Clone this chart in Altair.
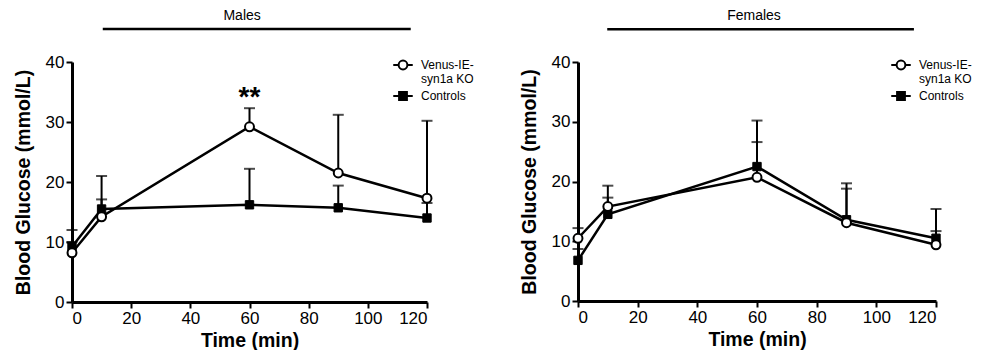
import altair as alt
import pandas as pd

# ---- data ----
time_min = [0, 10, 60, 90, 120]
series_names = ["Venus-IE-syn1a KO", "Controls"]

male_ko = [8.2, 14.2, 29.2, 21.5, 17.3]
male_ko_upper = [12.0, 21.0, 32.3, 31.2, 30.2]
male_ctrl = [9.2, 15.5, 16.2, 15.7, 14.0]
male_ctrl_upper = [10.0, 17.1, 22.2, 19.4, 16.5]

female_ko = [10.5, 15.8, 20.7, 13.1, 9.4]
female_ko_upper = [12.2, 19.3, 26.6, 18.8, 11.7]
female_ctrl = [6.8, 14.5, 22.5, 13.6, 10.5]
female_ctrl_upper = [8.7, 17.3, 30.2, 19.7, 15.4]

x_ticks = [0, 20, 40, 60, 80, 100, 120]
y_ticks = [0, 10, 20, 30, 40]

FONT = "Liberation Sans"

KO_PATH = ("M-1,0H-0.45M0.45,0H1M0.45,0A0.45,0.45,0,1,1,-0.45,0"
           "A0.45,0.45,0,1,1,0.45,0Z")
CTRL_PATH = "M-1,0H1M-0.4,-0.4H0.4V0.4H-0.4Z"

AXIS_STYLE = dict(
    grid=False, domainColor="black", domainWidth=3, tickColor="black", tickWidth=2,
    tickSize=6, labelFont=FONT, labelFontSize=17, labelColor="black", labelPadding=2,
    titleFont=FONT, titleFontSize=19.5, titleFontWeight="bold", titleColor="black",
)


def make_df(ko, ko_up, ctrl, ctrl_up):
    rows = []
    for t, v, u in zip(time_min, ko, ko_up):
        rows.append({"time": t, "value": v, "upper": u, "series": series_names[0]})
    for t, v, u in zip(time_min, ctrl, ctrl_up):
        rows.append({"time": t, "value": v, "upper": u, "series": series_names[1]})
    return pd.DataFrame(rows)


def legend_def(legend_x):
    return alt.Legend(
        title=None, orient="none", legendX=legend_x, legendY=-8,
        symbolSize=380, symbolStrokeWidth=2, symbolStrokeColor="black", symbolOpacity=1,
        labelFont=FONT, labelFontSize=12, labelColor="black",
        labelLimit=200, labelOffset=7, rowPadding=-1,
        labelExpr="datum.label == 'Venus-IE-syn1a KO' ? ['Venus-IE-', 'syn1a KO'] : datum.label",
    )


def panel(label, ko, ko_up, ctrl, ctrl_up, header, legend_x, stars=None):
    df = make_df(ko, ko_up, ctrl, ctrl_up)
    base = alt.Chart(df)
    x = alt.X("time:Q", scale=alt.Scale(domain=[0, 120], nice=False),
              axis=alt.Axis(values=x_ticks, title="Time (min)", format="d",
                            titlePadding=5, **AXIS_STYLE))
    y = alt.Y("value:Q", scale=alt.Scale(domain=[0, 40], nice=False),
              axis=alt.Axis(values=y_ticks, title="Blood Glucose (mmol/L)", format="d",
                            titlePadding=12, **AXIS_STYLE))

    err = base.mark_rule(color="black", strokeWidth=2).encode(
        x=x, y=y, y2="upper:Q")
    cap = base.mark_tick(color="black", thickness=2, size=11, orient="horizontal").encode(
        x="time:Q", y="upper:Q")
    line = base.mark_line(color="black", strokeWidth=2.5).encode(
        x="time:Q", y="value:Q", detail="series:N")
    ctrl_pts = base.transform_filter(alt.datum.series == series_names[1]).mark_point(
        shape="square", filled=True, fill="black", stroke="black", strokeWidth=1,
        size=70, opacity=1).encode(x="time:Q", y="value:Q")
    ko_pts = base.transform_filter(alt.datum.series == series_names[0]).mark_point(
        shape="circle", filled=True, fill="white", stroke="black", strokeWidth=2,
        size=80, opacity=1).encode(x="time:Q", y="value:Q")

    leg = base.transform_filter("false").mark_point(
        filled=True, opacity=1, strokeWidth=2).encode(
        x="time:Q", y="value:Q",
        shape=alt.Shape("series:N",
                        scale=alt.Scale(domain=series_names, range=[KO_PATH, CTRL_PATH]),
                        legend=legend_def(legend_x)),
        fill=alt.Fill("series:N",
                      scale=alt.Scale(domain=series_names, range=["white", "black"]),
                      legend=legend_def(legend_x)),
        stroke=alt.Stroke("series:N",
                          scale=alt.Scale(domain=series_names, range=["black", "black"]),
                          legend=legend_def(legend_x)),
    )

    hdf = pd.DataFrame([{"label": label, "tx": header[0], "x1": header[1], "x2": header[2],
                         "ty": 47.7, "ry": 45.5}])
    hbase = alt.Chart(hdf)
    htext = hbase.mark_text(font=FONT, fontSize=14, color="black", baseline="middle",
                            clip=False).encode(x="tx:Q", y="ty:Q", text="label:N")
    hrule = hbase.mark_rule(color="black", strokeWidth=2.5, clip=False).encode(
        x="x1:Q", x2="x2:Q", y="ry:Q")

    layers = [err, cap, line, ctrl_pts, ko_pts, leg, htext, hrule]
    if stars is not None:
        sdf = pd.DataFrame([{"x": stars[0], "y": stars[1], "t": "**"}])
        layers.append(alt.Chart(sdf).mark_text(font=FONT, fontSize=28, fontWeight="bold",
                                               color="black", baseline="alphabetic").encode(
            x="x:Q", y="y:Q", text="t:N"))
    return alt.layer(*layers).resolve_scale(shape="independent", fill="independent",
                                            stroke="independent")


left = panel("Males", male_ko, male_ko_upper, male_ctrl, male_ctrl_upper,
             (57.5, 10.4, 114.5), 320, stars=(60, 32.6)).properties(width=355, height=240)
right = panel("Females", female_ko, female_ko_upper, female_ctrl, female_ctrl_upper,
              (59, 9.8, 112.6), 312).properties(width=358, height=239)

chart = alt.hconcat(left, right, spacing=45).resolve_legend(
    shape="independent", fill="independent", stroke="independent").resolve_scale(
    shape="independent", fill="independent", stroke="independent").properties(
    padding={"left": 5, "top": 0, "right": 0, "bottom": 0}
).configure_view(stroke=None)

chart.save("out.html", embed_options={"renderer": "svg", "actions": False})
